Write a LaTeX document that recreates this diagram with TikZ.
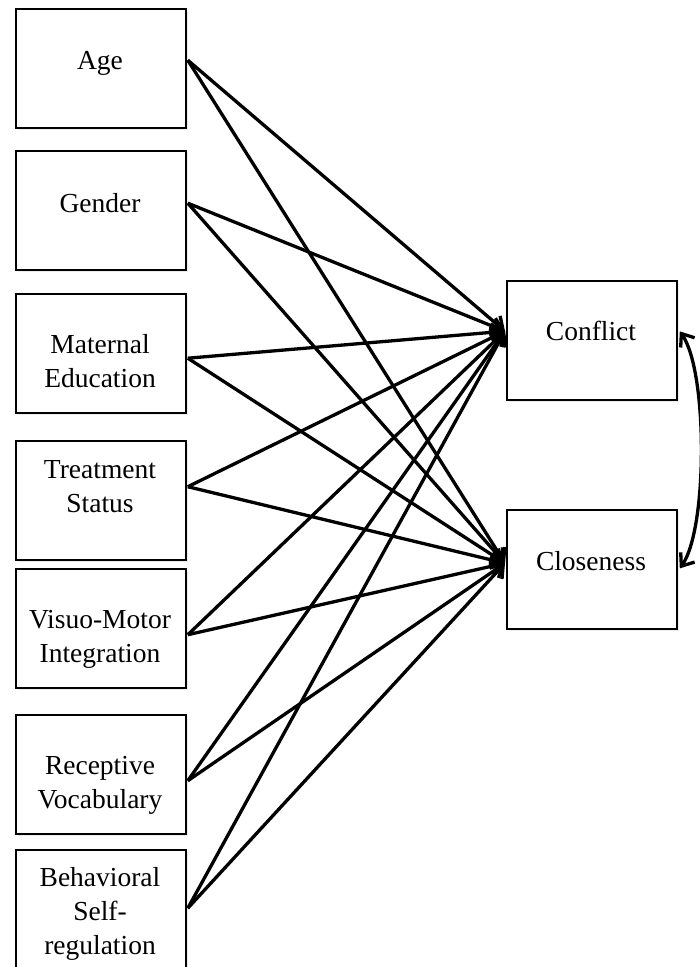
\documentclass[tikz,border=0pt]{standalone}
\usepackage{fontspec}
\setmainfont{Liberation Serif}
\usetikzlibrary{arrows.meta,shadows}
\begin{document}
\begin{tikzpicture}[x=1pt,y=-1pt,
  varbox/.style={draw=black, line width=1.8pt, fill=white,
    minimum width=170pt, minimum height=119pt, inner sep=0pt,
    anchor=north west,
    drop shadow={opacity=0.15, shadow xshift=2pt, shadow yshift=-2.5pt}},
  lbl/.style={font=\fontsize{27.5}{34}\selectfont, align=center, inner sep=0pt},
  tip/.tip={Straight Barb[length=11pt,width=17pt]},
  link/.style={line width=3.3pt, -tip},
  corr/.style={line width=3.3pt, tip-tip}
]
\useasboundingbox (0,0) rectangle (700,967);
\fill[white] (0,0) rectangle (700,967);
\clip (0,0) rectangle (700,967);

% predictor boxes
\node[varbox] (age) at (15,8)   {};
\node[varbox] (gen) at (15,150) {};
\node[varbox] (mat) at (15,293) {};
\node[varbox] (trt) at (15,440) {};
\node[varbox] (vmi) at (15,568) {};
\node[varbox] (rec) at (15,714) {};
\node[varbox] (beh) at (15,849) {};

% outcome boxes
\node[varbox] (cf) at (506,280) {};
\node[varbox] (cl) at (506,509) {};

% labels
\node[lbl] (agetx) at (100,62.2)  {\strut Age};
\node[lbl] (gentx) at (100,205.2) {\strut Gender};
\node[lbl] (mattx) at (100,363.2) {\strut Maternal\\\strut Education};
\node[lbl] (trttx) at (100,488.7) {\strut Treatment\\\strut Status};
\node[lbl] (vmitx) at (100,638.7) {\strut Visuo-Motor\\\strut Integration};
\node[lbl] (rectx) at (100,784.7) {\strut Receptive\\\strut Vocabulary};
\node[lbl] (behtx) at (100,913.2) {\strut Behavioral\\\strut Self-\\\strut regulation};
\node[lbl] (cftx)  at (591,333.2) {\strut Conflict};
\node[lbl] (cltx)  at (591,563.2) {\strut Closeness};

% connection points on the box edges
\path (agetx.center -| age.east) ++(1,-2) coordinate (agep);
\path (gentx.center -| gen.east) ++(1,-2) coordinate (genp);
\path (mattx.center -| mat.east) ++(1,-5) coordinate (matp);
\path (trttx.center -| trt.east) ++(1,-2) coordinate (trtp);
\path (vmitx.center -| vmi.east) ++(1,-4) coordinate (vmip);
\path (rectx.center -| rec.east) ++(1,-4) coordinate (recp);
\path (behtx.center -| beh.east) ++(1,-5) coordinate (behp);
\path (cftx.center -| cf.west) ++(-1,-2) coordinate (cfp);
\path (cltx.center -| cl.west) ++(-1,0) coordinate (clp);
\path (cf.east) ++(2,-9) coordinate (cfr);
\path (cl.east) ++(2,-1) coordinate (clr);

% paths from every predictor to both outcomes
\foreach \s in {agep,genp,matp,trtp,vmip,recp,behp}{
  \draw[link] (\s) -- (cfp);
  \draw[link] (\s) -- (clp);
}

% correlation between the outcomes
\draw[corr] (cfr) .. controls +(28,40) and +(28,-40) .. (clr);
\end{tikzpicture}
\end{document}
